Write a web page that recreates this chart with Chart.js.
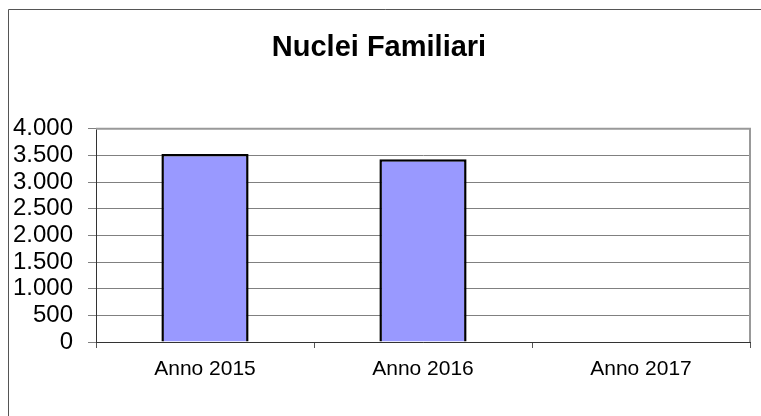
<!DOCTYPE html>
<html>
<head>
<meta charset="utf-8">
<script src="https://cdn.jsdelivr.net/npm/chart.js@4"></script>
<style>
    body { margin: 0; background: #fff; }
    canvas { display: block; }
</style>
</head>
<body>
<canvas id="nuclei-chart" width="761" height="416"></canvas>
<script>
const categories = ['Anno 2015', 'Anno 2016', 'Anno 2017'];
const nuclei = [3525, 3430, 0];
const yTicks = [0, 500, 1000, 1500, 2000, 2500, 3000, 3500, 4000];

// thousands with a dot, like the original (4.000)
function formatIt(v) {
    return String(v).replace(/\B(?=(\d{3})+(?!\d))/g, '.');
}

// outer frame and grey top/right edge of the plot area
const framePlugin = {
    id: 'frame',
    beforeDraw(chart) {
        const c = chart.ctx;
        c.save();
        c.fillStyle = '#fff';
        c.fillRect(0, 0, chart.width, chart.height);
        c.lineWidth = 1;
        c.strokeStyle = '#555';
        c.beginPath();
        c.moveTo(8.5, chart.height + 5);
        c.lineTo(8.5, 9.5);
        c.lineTo(chart.width + 5, 9.5);
        c.stroke();
        c.restore();
    },
    afterDatasetsDraw(chart) {
        const a = chart.chartArea;
        const c = chart.ctx;
        c.save();
        c.strokeStyle = '#999';
        c.lineWidth = 2;
        c.beginPath();
        c.moveTo(a.left, a.top);
        c.lineTo(a.right, a.top);
        c.lineTo(a.right, a.bottom);
        c.stroke();
        c.restore();
    }
};

const ctx = document.getElementById('nuclei-chart').getContext('2d');
new Chart(ctx, {
    type: 'bar',
    data: {
        labels: categories,
        datasets: [{
            data: nuclei,
            backgroundColor: '#9999FF',
            borderColor: '#000',
            borderWidth: 2.5,
            barPercentage: 0.4,
            categoryPercentage: 1
        }]
    },
    options: {
        responsive: false,
        animation: false,
        layout: { padding: { left: 8, right: 11, top: 0, bottom: 0 } },
        plugins: {
            legend: { display: false },
            tooltip: { enabled: false },
            title: {
                display: true,
                text: 'Nuclei Familiari',
                color: '#000',
                font: { family: 'Liberation Sans, Arial, sans-serif', size: 29, weight: 'bold' },
                padding: { top: 31, bottom: 63 }
            }
        },
        scales: {
            x: {
                afterFit(scale) { scale.height = 74; },
                grid: { drawOnChartArea: false, tickLength: 6, color: '#555', offset: true },
                border: { color: '#333', width: 1 },
                ticks: {
                    color: '#000',
                    padding: 9,
                    font: { family: 'Liberation Sans, Arial, sans-serif', size: 21 }
                }
            },
            y: {
                min: 0,
                max: 4000,
                afterFit(scale) { scale.width = 88; },
                afterBuildTicks(scale) { scale.ticks = yTicks.map(v => ({ value: v })); },
                grid: { color: '#808080', tickLength: 8 },
                border: { color: '#333', width: 1 },
                ticks: {
                    color: '#000',
                    padding: 15,
                    autoSkip: false,
                    callback: v => formatIt(v),
                    font: { family: 'Liberation Sans, Arial, sans-serif', size: 24, lineHeight: 1 }
                }
            }
        }
    },
    plugins: [framePlugin]
});
</script>
</body>
</html>
